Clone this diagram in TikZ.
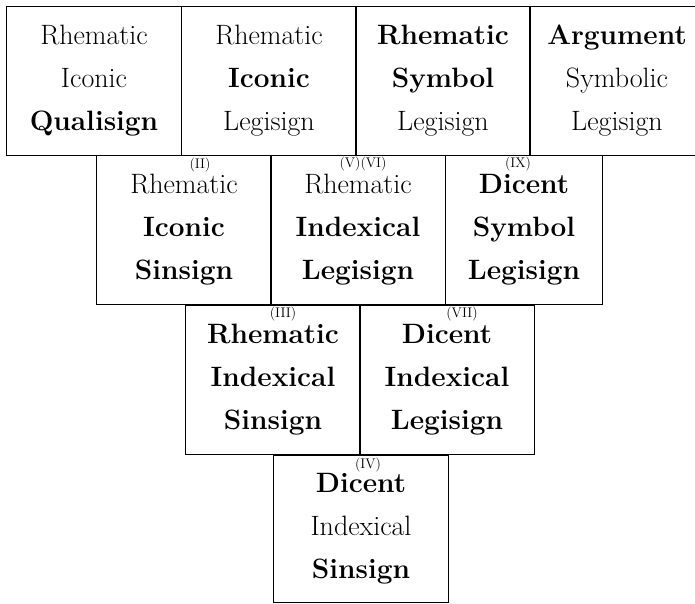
\documentclass[tikz,border=0pt]{standalone}
\usetikzlibrary{positioning}

\tikzset{
  signbox/.style={draw,line width=1.4pt,minimum width=175pt,minimum height=149pt,
    inner sep=0pt,align=center,font=\fontsize{28}{43}\selectfont},
  numlabel/.style={inner sep=0pt,font=\fontsize{14}{14}\selectfont}
}

\begin{document}
\begin{tikzpicture}[x=1pt,y=-1pt]
 \useasboundingbox[fill=white] (0,0) rectangle (695,604);

% first row
 \node[signbox] (qualisign) at (94,81) {Rhematic\\Iconic\\\textbf{Qualisign}};
 \node[signbox] (iconleg) at (269,81) {Rhematic\\\textbf{Iconic}\\Legisign};
 \node[signbox] (rhemsym) at (443,81) {\textbf{Rhematic}\\\textbf{Symbol}\\Legisign};
 \node[signbox] (argument) at (617,81) {\textbf{Argument}\\Symbolic\\Legisign};

% second row
 \node[signbox] (iconsin) at (184,230) {Rhematic\\\textbf{Iconic}\\\textbf{Sinsign}};
 \node[signbox] (rhemindleg) at (358,230) {Rhematic\\\textbf{Indexical}\\\textbf{Legisign}};
 \node[signbox,minimum width=157pt] (dicsym) at (524,230) {\textbf{Dicent}\\\textbf{Symbol}\\\textbf{Legisign}};

% third row
 \node[signbox] (rheminds) at (273,380) {\textbf{Rhematic}\\\textbf{Indexical}\\\textbf{Sinsign}};
 \node[signbox] (dicindleg) at (447,380) {\textbf{Dicent}\\\textbf{Indexical}\\\textbf{Legisign}};

% last row
 \node[signbox,minimum height=147pt] (dicinds) at (361,529) {\textbf{Dicent}\\Indexical\\\textbf{Sinsign}};

% numbers above the classes
 \node[numlabel,below=3pt of iconsin.north,xshift=16pt] (n2) {(II)};
 \node[numlabel,below=2pt of rhemindleg.north,xshift=5pt] (n6) {(V)(VI)};
 \node[numlabel,below=2pt of dicsym.north,xshift=-6pt] (n9) {(IX)};
 \node[numlabel,below=2pt of rheminds.north,xshift=10pt] (n3) {(III)};
 \node[numlabel,below=2pt of dicindleg.north,xshift=15pt] (n7) {(VII)};
 \node[numlabel,below=3pt of dicinds.north,xshift=7pt] (n4) {(IV)};
\end{tikzpicture}
\end{document}
